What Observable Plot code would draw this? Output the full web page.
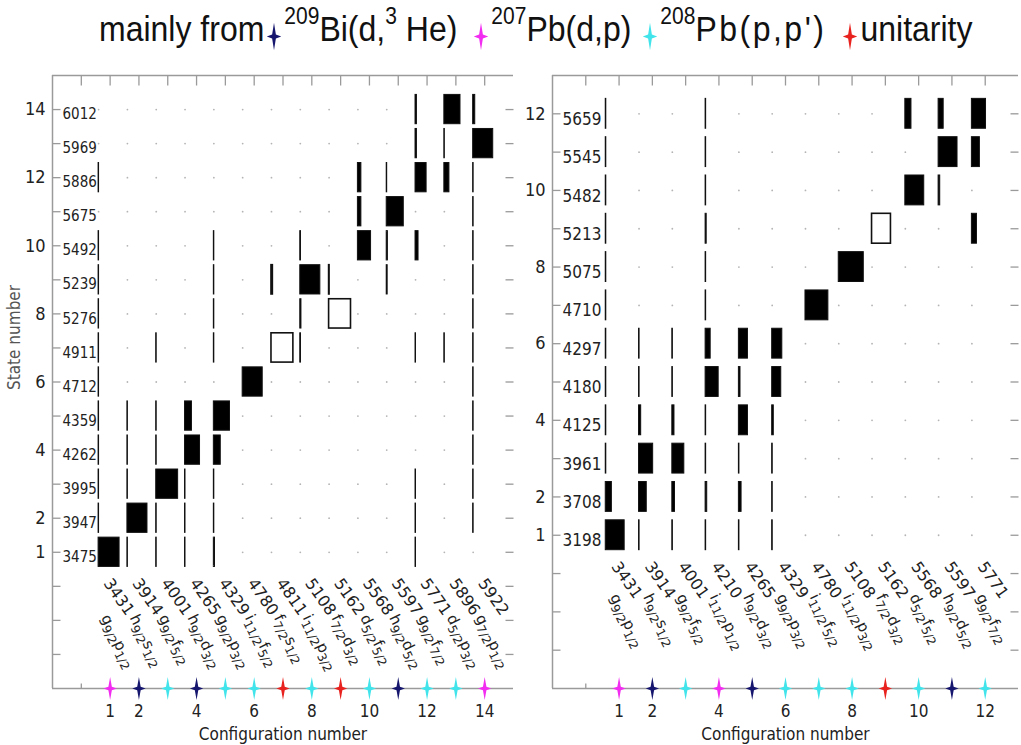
<!DOCTYPE html>
<html><head><meta charset="utf-8">
<script src="https://cdn.jsdelivr.net/npm/d3@7"></script>
<script src="https://cdn.jsdelivr.net/npm/@observablehq/plot@0.6"></script>
<style>
html,body{margin:0;padding:0;background:#fff;}
body{width:1021px;height:745px;overflow:hidden;position:relative;}
#left{position:absolute;left:0;top:0;}
#right{position:absolute;left:520px;top:0;}
#legend{position:absolute;left:99px;top:9px;height:40px;line-height:36px;font-family:"Liberation Sans",Arial,sans-serif;font-size:32px;color:#111;white-space:nowrap;z-index:2;transform:scaleY(1.1);transform-origin:0 0;}
#legend .sup{position:relative;top:-15px;font-size:21px;}
#legend svg{vertical-align:-9px;margin:0 2px 0 2px;}
#legend .gap{display:inline-block;}
</style></head><body>
<div id="left"></div><div id="right"></div><div id="legend"></div>
<script>
// ---------------- data ----------------
const sourceKeys   = ["bi", "pb207", "pbpp", "unit"];
const sourceColors = ["#16166e", "#f22cf0", "#40e4ea", "#e8221e"];
const legendMass   = ["209", "207", "208", ""];
const legendLabel  = [["Bi(d,", "3", " He)"], ["Pb(d,p)", "", ""], ["Pb(p,p')", "", ""], ["unitarity", "", ""]];

// left panel
const leftConfigEnergy  = [3431, 3914, 4001, 4265, 4329, 4780, 4811, 5108, 5162, 5568, 5597, 5771, 5896, 5922];
const leftConfigOrbital = ["g9/2 p1/2", "h9/2 s1/2", "g9/2 f5/2", "h9/2 d3/2", "g9/2 p3/2", "i11/2 f5/2", "f7/2 s1/2",
                           "i11/2 p3/2", "f7/2 d3/2", "d5/2 f5/2", "h9/2 d5/2", "g9/2 f7/2", "d5/2 p3/2", "g7/2 p1/2"];
const leftConfigSource  = ["pb207", "bi", "pbpp", "bi", "pbpp", "pbpp", "unit", "pbpp", "unit", "pbpp", "bi", "pbpp", "pbpp", "pb207"];
const leftStateEnergy   = [3475, 3947, 3995, 4262, 4359, 4712, 4911, 5276, 5239, 5492, 5675, 5886, 5969, 6012];
const leftAmplitude = [ // rows: state 1..14, columns: configuration 1..14 (0 = not present)
  [0.91, 0.02, 0.02, 0.02, 0.05, 0, 0, 0, 0, 0, 0, 0.02, 0, 0],
  [0.02, 0.87, 0.02, 0.02, 0.02, 0, 0, 0, 0, 0, 0, 0.02, 0, 0.02],
  [0.02, 0.02, 0.95, 0.02, 0.02, 0, 0, 0, 0, 0, 0, 0.02, 0, 0.02],
  [0.02, 0.02, 0.02, 0.65, 0.30, 0, 0, 0, 0, 0, 0, 0, 0, 0.02],
  [0.02, 0.02, 0.02, 0.30, 0.70, 0, 0, 0, 0, 0, 0, 0, 0, 0.02],
  [0.02, 0, 0, 0, 0, 0.87, 0, 0, 0, 0, 0, 0, 0, 0.02],
  [0.02, 0, 0.02, 0, 0.02, 0, 0.95, 0.03, 0, 0, 0, 0.02, 0.02, 0.02],
  [0.02, 0, 0, 0, 0.02, 0, 0, 0.05, 0.95, 0, 0, 0, 0, 0.02],
  [0.02, 0, 0, 0, 0.02, 0, 0.06, 0.87, 0.02, 0, 0.04, 0, 0, 0.02],
  [0.02, 0, 0, 0, 0.02, 0, 0, 0.03, 0, 0.57, 0.05, 0.13, 0, 0.02],
  [0, 0, 0, 0, 0, 0, 0, 0, 0, 0.15, 0.74, 0, 0, 0.02],
  [0.02, 0, 0, 0, 0, 0, 0, 0, 0, 0.15, 0.02, 0.48, 0.22, 0.02],
  [0, 0, 0, 0, 0, 0, 0, 0, 0, 0, 0, 0.06, 0.02, 0.87],
  [0, 0, 0, 0, 0, 0, 0, 0, 0, 0, 0, 0.06, 0.70, 0.09]
];
const leftXLabels = [1, 2, 4, 6, 8, 10, 12, 14];
const leftYLabels = [1, 2, 4, 6, 8, 10, 12, 14];

// right panel
const rightConfigEnergy  = [3431, 3914, 4001, 4210, 4265, 4329, 4780, 5108, 5162, 5568, 5597, 5771];
const rightConfigOrbital = ["g9/2 p1/2", "h9/2 s1/2", "g9/2 f5/2", "i11/2 p1/2", "h9/2 d3/2", "g9/2 p3/2",
                            "i11/2 f5/2", "i11/2 p3/2", "f7/2 d3/2", "d5/2 f5/2", "h9/2 d5/2", "g9/2 f7/2"];
const rightConfigSource  = ["pb207", "bi", "pbpp", "pb207", "bi", "pbpp", "pbpp", "pbpp", "unit", "pbpp", "bi", "pbpp"];
const rightStateEnergy   = [3198, 3708, 3961, 4125, 4180, 4297, 4710, 5075, 5213, 5482, 5545, 5659];
const rightAmplitude = [ // rows: state 1..12, columns: configuration 1..12
  [0.71, 0.02, 0.02, 0.02, 0.02, 0.02, 0, 0, 0, 0, 0, 0],
  [0.23, 0.29, 0.10, 0.06, 0.10, 0.02, 0, 0, 0, 0, 0, 0],
  [0.02, 0.53, 0.45, 0.02, 0.02, 0.02, 0, 0, 0, 0, 0, 0],
  [0.02, 0.08, 0.08, 0.02, 0.34, 0.06, 0, 0, 0, 0, 0, 0],
  [0.02, 0.02, 0.02, 0.49, 0.06, 0.34, 0, 0, 0, 0, 0, 0],
  [0.02, 0.02, 0.02, 0.19, 0.34, 0.38, 0, 0, 0, 0, 0, 0],
  [0.02, 0, 0, 0.02, 0, 0, 0.86, 0, 0, 0, 0, 0],
  [0.02, 0, 0, 0.02, 0, 0, 0, 0.94, 0, 0, 0, 0],
  [0.02, 0, 0, 0.04, 0, 0, 0, 0, 0.71, 0, 0, 0.19],
  [0.02, 0, 0, 0.02, 0, 0, 0, 0, 0, 0.71, 0.06, 0],
  [0.02, 0, 0, 0.02, 0, 0, 0, 0, 0, 0, 0.71, 0.30],
  [0.02, 0, 0, 0.02, 0, 0, 0, 0, 0, 0.23, 0.19, 0.53]
];
const rightXLabels = [1, 2, 4, 6, 8, 10, 12];
const rightYLabels = [1, 2, 4, 6, 8, 10, 12];

// ---------------- drawing ----------------
const FONT = '"Liberation Sans Narrow","DejaVu Sans Condensed","Liberation Sans",Arial,sans-serif';
const LABFONT = '"DejaVu Sans",Verdana,sans-serif';
const FRAME = "#9a9a9a";

const starSymbol = {draw(ctx, size) {
  const r = Math.sqrt(size / Math.PI), w = r * 0.58, k = r * 0.15;
  ctx.moveTo(0, -r); ctx.lineTo(k, -k); ctx.lineTo(w, 0); ctx.lineTo(k, k);
  ctx.lineTo(0, r); ctx.lineTo(-k, k); ctx.lineTo(-w, 0); ctx.lineTo(-k, -k); ctx.closePath();
}};
const tickSym = (ux, uy) => ({draw(ctx, size) {
  const l = Math.sqrt(size / Math.PI); ctx.moveTo(0, 0); ctx.lineTo(ux * l, uy * l);
}});

function panel(o) {
  const nC = o.configE.length, nS = o.stateE.length;
  const configs = d3.range(1, nC + 1), states = d3.range(1, nS + 1);
  const cells = [];
  for (const s of states) for (const c of configs)
    cells.push({s, c, amp: o.amp[s - 1][c - 1], open: o.source[c - 1] === "unit"});
  const x1 = d => d.c - 0.4, x2 = d => d.c - 0.4 + 0.8 * d.amp;
  const y1 = d => d.s - o.hh, y2 = d => d.s + o.hh;
  const yTicks = d3.range(o.yDomain[0] + 1, o.yDomain[1]);
  const xTicks = d3.range(0, nC + 1);
  const marks = [
    Plot.ruleX([o.xDomain[0]], {stroke: FRAME, strokeWidth: 1.5}),
    Plot.ruleY([o.yDomain[0], o.yDomain[1]], {stroke: FRAME, strokeWidth: 1.5}),
    Plot.dotY(yTicks, {frameAnchor: "left", symbol: tickSym(1, 0), r: 8, stroke: FRAME, fill: "none", strokeWidth: 1.3}),
    Plot.dotY(yTicks, {frameAnchor: "right", symbol: tickSym(-1, 0), r: 8, stroke: FRAME, fill: "none", strokeWidth: 1.3}),
    Plot.dotX(xTicks, {frameAnchor: "top", symbol: tickSym(0, 1), r: 10, stroke: FRAME, fill: "none", strokeWidth: 1.3}),
    Plot.dotX(xTicks, {frameAnchor: "bottom", symbol: tickSym(0, -1), r: 5, stroke: FRAME, fill: "none", strokeWidth: 1.3}),
    Plot.dot(cells.filter(d => d.amp === 0), {x: x1, y: "s", r: 0.9, fill: "#b4b4b4"}),
    Plot.rect(cells.filter(d => d.amp > 0 && !d.open), {x1, x2, y1, y2, fill: "#000", stroke: "#111", strokeWidth: 1}),
    Plot.rect(cells.filter(d => d.amp > 0 && d.open), {x1, x2, y1, y2, fill: "#fff", stroke: "#111", strokeWidth: 1.6}),
    Plot.axisY({anchor: "left", ticks: o.yLabels, tickSize: 0, tickPadding: 7, fontSize: o.yFont, label: null, fill: "#222"}),
    Plot.axisX({anchor: "bottom", ticks: o.xLabels, tickSize: 0, tickPadding: 16, fontSize: 17, label: null, fill: "#222"}),
    Plot.text(states, {y: s => s, text: s => String(o.stateE[s - 1]), frameAnchor: "left", dx: 10, dy: -1,
      textAnchor: "start", lineAnchor: "top", fontSize: o.eFont, fill: "#222"}),
    Plot.text(configs, {x: c => c, y: () => 0, text: c => String(o.configE[c - 1]), rotate: 55,
      textAnchor: "start", lineAnchor: "middle", dx: o.eDx, dy: o.eDy, fontSize: 16, fontFamily: LABFONT, fill: "#222"}),
    Plot.text(configs, {x: c => c, y: () => 0, text: c => o.orbital[c - 1], rotate: 64,
      textAnchor: "start", lineAnchor: "middle", dx: o.oDx, dy: o.oDy, fontSize: 15, fontFamily: LABFONT, fill: "#222"}),
    Plot.dotX(configs, {frameAnchor: "bottom", symbol: starSymbol, r: 11.5, fill: c => o.source[c - 1]}),
    Plot.text(["Configuration number"], {frameAnchor: "bottom", dy: 51, fontSize: 17, fill: "#222"})
  ];
  if (o.yTitle) marks.push(Plot.text([o.yTitle], {frameAnchor: "left", dx: -38, dy: 8, rotate: -90, fontSize: 17, fill: "#555"}));
  const svg = Plot.plot({
    width: o.width, height: 745, marginTop: 75, marginBottom: 57, marginLeft: o.ml, marginRight: o.mr,
    x: {domain: o.xDomain}, y: {domain: o.yDomain},
    color: {domain: sourceKeys, range: sourceColors},
    style: {fontFamily: FONT, background: "transparent", color: "#222", overflow: "visible"},
    marks
  });
  // subscripts for orbital labels (e.g. g9/2 p1/2)
  d3.select(svg).selectAll("text").each(function () {
    const m = this.textContent.match(/^([a-z])(\d+\/\d+) ([a-z])(\d+\/\d+)$/);
    if (!m) return;
    const t = d3.select(this); t.text("");
    t.append("tspan").text(m[1]);
    t.append("tspan").attr("font-size", 12).attr("dy", 4).text(m[2]);
    t.append("tspan").attr("dy", -4).text(m[3]);
    t.append("tspan").attr("font-size", 12).attr("dy", 4).text(m[4]);
  });
  return svg;
}

document.getElementById("left").append(panel({
  configE: leftConfigEnergy, orbital: leftConfigOrbital, source: leftConfigSource,
  stateE: leftStateEnergy, amp: leftAmplitude, xLabels: leftXLabels, yLabels: leftYLabels,
  xDomain: [-1, 15], yDomain: [-3, 15], width: 520, ml: 52, mr: 7, hh: 0.43,
  yFont: 18, eFont: 15, eDx: -3, eDy: -6, oDx: -5, oDy: 29, yTitle: "State number"
}));
document.getElementById("right").append(panel({
  configE: rightConfigEnergy, orbital: rightConfigOrbital, source: rightConfigSource,
  stateE: rightStateEnergy, amp: rightAmplitude, xLabels: rightXLabels, yLabels: rightYLabels,
  xDomain: [-1, 13], yDomain: [-3, 13], width: 501, ml: 32, mr: 3, hh: 0.39,
  yFont: 18, eFont: 17, eDx: -4, eDy: -10, oDx: -5, oDy: 21, yTitle: null
}));

// legend
const legendGaps = [0, 14, 9, 14];
const legend = d3.select("#legend");
legend.append("span").text("mainly from");
sourceKeys.forEach((k, i) => {
  legend.append("span").attr("class", "gap").style("width", legendGaps[i] + "px");
  const s = legend.append("svg").attr("width", 16).attr("height", 26).attr("viewBox", "-8 -13 16 26");
  const p = d3.path(); starSymbol.draw(p, 12.5 * 12.5 * Math.PI);
  s.append("path").attr("d", p.toString()).attr("fill", sourceColors[i]);
  if (legendMass[i]) legend.append("span").attr("class", "sup").text(legendMass[i]);
  const [a, b, c] = legendLabel[i];
  const main = legend.append("span").text(a);
  if (k === "pbpp") main.style("letter-spacing", "2.5px");
  if (b) legend.append("span").attr("class", "sup").text(b);
  if (c) legend.append("span").text(c);
});
</script>
</body></html>
